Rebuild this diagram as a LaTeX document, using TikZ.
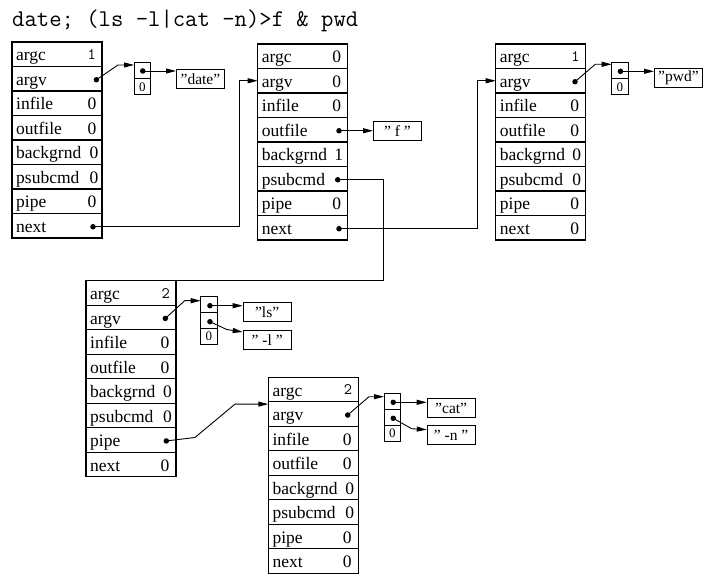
\documentclass[tikz,border=0pt]{standalone}
\usepackage{fontspec}
\setmainfont{Liberation Serif}
\usetikzlibrary{arrows.meta,calc}

\newcommand\mktable[3]{%
 \foreach \nm/\lb [count=\i from 0] in {argc/argc,argv/argv,infile/infile,outfile/outfile,bg/backgrnd,ps/psubcmd,pipe/pipe,next/next}{%
   \node[rowbox, anchor=north west] (#1\nm) at (#2,{#3+\i*24.5}) {};
   \node[lab] (#1\nm l) at ($(#1\nm.north west)+(4,19)$) {\lb};
 }}
\newcommand\vv[3]{\node[val] (#1v) at ($(#1.north east)+(-#3,19)$) {#2};}
\newcommand\sv[2]{\node[sval] (#1v) at ($(#1.north east)+(-6,17.5)$) {#2};}
\newcommand\dt[2]{\node[dot] (#1d) at ($(#1.east)+(-#2,1)$) {};}

\begin{document}
\begin{tikzpicture}[x=1pt,y=-1pt,
  rowbox/.style={draw, line width=1.1pt, minimum width=90pt, minimum height=24.5pt, inner sep=0pt, outer sep=0pt},
  lab/.style={anchor=base west, inner sep=0pt, font=\fontsize{17.5}{20}\selectfont},
  val/.style={anchor=base east, inner sep=0pt, font=\fontsize{17.5}{20}\selectfont},
  sval/.style={anchor=base east, inner sep=0pt, font=\ttfamily\fontsize{16}{18}\selectfont},
  cell/.style={draw, line width=0.9pt, minimum width=16.5pt, minimum height=16pt, inner sep=0pt, outer sep=0pt, anchor=north west},
  cellt/.style={font=\fontsize{13}{15}\selectfont, inner sep=0pt},
  str/.style={draw, line width=0.9pt, minimum width=48pt, minimum height=19pt, inner sep=0pt, anchor=north west, font=\fontsize{15.5}{18}\selectfont},
  dot/.style={circle, fill, inner sep=0pt, minimum size=5.5pt},
  conn/.style={line width=0.9pt},
  arr/.style={conn, -{Triangle[length=10pt,width=5pt]}},
]
\useasboundingbox (0,0) rectangle (710,588);

\node[anchor=base west, inner sep=0pt, font=\ttfamily\fontsize{24}{28}\selectfont] (title) at (12,26.5) {date; (ls -l|cat -n)>f \& pwd};

% ---------- table 1
\mktable{t1}{12}{42}
\sv{t1argc}{1}
\dt{t1argv}{5.6}
\vv{t1infile}{0}{5.5}
\vv{t1outfile}{0}{5.5}
\vv{t1bg}{0}{3.5}
\vv{t1ps}{0}{3.5}
\vv{t1pipe}{0}{5.5}
\dt{t1next}{9}

% ---------- table 2
\mktable{t2}{257.7}{44}
\vv{t2argc}{0}{6.5}
\vv{t2argv}{0}{6.5}
\vv{t2infile}{0}{6.5}
\dt{t2outfile}{8.7}
\vv{t2bg}{1}{4.4}
\dt{t2ps}{10}
\vv{t2pipe}{0}{6.5}
\dt{t2next}{8.7}

% ---------- table 3
\mktable{t3}{495.7}{44}
\sv{t3argc}{1}
\dt{t3argv}{10.7}
\vv{t3infile}{0}{6.5}
\vv{t3outfile}{0}{6.5}
\vv{t3bg}{0}{4.5}
\vv{t3ps}{0}{4.5}
\vv{t3pipe}{0}{6.5}
\vv{t3next}{0}{6.5}

% ---------- table 4
\mktable{t4}{86}{280.7}
\sv{t4argc}{2}
\dt{t4argv}{10.7}
\vv{t4infile}{0}{6.4}
\vv{t4outfile}{0}{6.4}
\vv{t4bg}{0}{4}
\vv{t4ps}{0}{4}
\dt{t4pipe}{9.7}
\vv{t4next}{0}{6.4}

% ---------- table 5
\mktable{t5}{268.3}{377.3}
\sv{t5argc}{2}
\dt{t5argv}{10.6}
\vv{t5infile}{0}{6.4}
\vv{t5outfile}{0}{6.4}
\vv{t5bg}{0}{4}
\vv{t5ps}{0}{4}
\vv{t5pipe}{0}{6.4}
\vv{t5next}{0}{6.4}

% ---------- argv arrays
\node[cell] (a1a) at (134,62) {};
\node[cell] (a1b) at (134,78) {};
\node[cellt] (a1bt) at ($(a1b.center)+(0,1)$) {0};
\node[dot] (a1ad) at ($(a1a.center)+(0.5,1)$) {};

\node[cell] (a3a) at (611.7,62.3) {};
\node[cell] (a3b) at (611.7,78.3) {};
\node[cellt] (a3bt) at ($(a3b.center)+(0,1)$) {0};
\node[dot] (a3ad) at ($(a3a.center)+(0.5,1)$) {};

\node[cell] (a4a) at (200.7,296.7) {};
\node[cell] (a4b) at (200.7,312.7) {};
\node[cell] (a4c) at (200.7,328.7) {};
\node[cellt] (a4ct) at ($(a4c.center)+(0,0)$) {0};
\node[dot] (a4ad) at ($(a4a.center)+(1,1)$) {};
\node[dot] (a4bd) at ($(a4b.center)+(1,1)$) {};

\node[cell] (a5a) at (384,393.3) {};
\node[cell] (a5b) at (384,409.3) {};
\node[cell] (a5c) at (384,425.3) {};
\node[cellt] (a5ct) at ($(a5c.center)+(0,0)$) {0};
\node[dot] (a5ad) at ($(a5a.center)+(1,1)$) {};
\node[dot] (a5bd) at ($(a5b.center)+(1,1)$) {};

% ---------- strings
\node[str] (sdate) at (176,69) {”date”};
\node[str] (sf) at (373,121) {” f ”};
\node[str] (spwd) at (654,67.7) {”pwd”};
\node[str] (sls) at (242.7,302.3) {”ls”};
\node[str] (sl) at (242.7,330) {” -l ”};
\node[str] (scat) at (426.7,398.3) {”cat”};
\node[str] (sn) at (426.7,425) {” -n ”};

% ---------- connectors
\draw[arr] (t1argvd.center) -- ($(a1a.north west)+(-16,3)$) -- ($(a1a.north west)+(0,3)$);
\draw[arr] (a1ad.center) -- (sdate.west |- a1ad.center);
\draw[arr] (t1nextd.center) -| ($(t2argv.west)+(-18.7,0)$) -- (t2argv.west);
\draw[arr] (t2outfiled.center) -- (sf.west |- t2outfiled.center);
\draw[conn] (t2psd.center) -| ($(t4argc.north east)+(207.6,0)$) -- (t4argc.north east);
\draw[arr] (t2nextd.center) -| ($(t3argv.west)+(-18,0)$) -- (t3argv.west);
\draw[arr] (t3argvd.center) -- ($(a3a.north west)+(-16.5,2)$) -- ($(a3a.north west)+(0,2)$);
\draw[arr] (a3ad.center) -- (spwd.west |- a3ad.center);
\draw[arr] (t4argvd.center) -- ($(a4a.north west)+(-16,4)$) -- ($(a4a.north west)+(0,4)$);
\draw[arr] (a4ad.center) -- (sls.west |- a4ad.center);
\draw[arr] (a4bd.center) -- ($(sl.north west)+(-16,-0.5)$) -- ($(sl.north west)+(0,2)$);
\draw[arr] (t4piped.center) -- ($(t5argv.north west)+(-73.3,35.7)$) -- ($(t5argv.north west)+(-33.3,2.3)$) -- ($(t5argv.north west)+(0,2.3)$);
\draw[arr] (t5argvd.center) -- ($(a5a.north west)+(-15,3.4)$) -- ($(a5a.north west)+(0,3.4)$);
\draw[arr] (a5ad.center) -- (scat.west |- a5ad.center);
\draw[arr] (a5bd.center) -- ($(sn.north west)+(-15,3.7)$) -- ($(sn.north west)+(0,4.7)$);
\end{tikzpicture}
\end{document}
